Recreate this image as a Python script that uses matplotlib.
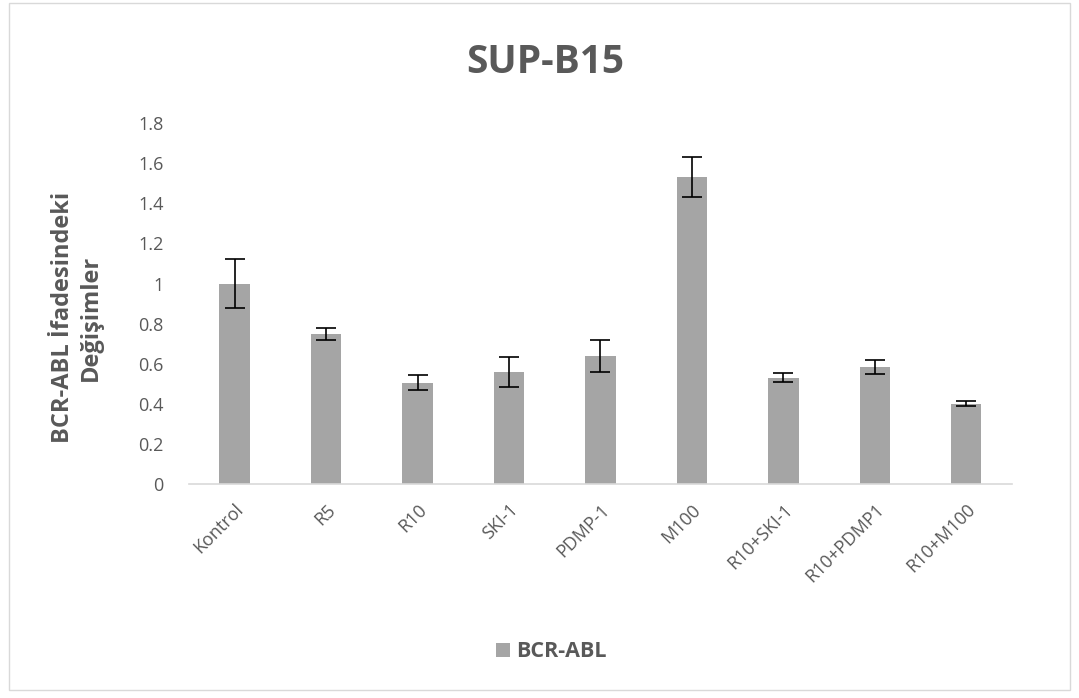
import matplotlib
matplotlib.use("Agg")
import matplotlib.pyplot as plt
from matplotlib.patches import Rectangle, Patch

categories = ["Kontrol", "R5", "R10", "SKI-1", "PDMP-1", "M100", "R10+SKI-1", "R10+PDMP1", "R10+M100"]
values = [1.0, 0.75, 0.505, 0.56, 0.64, 1.53, 0.53, 0.585, 0.40]
errors = [0.12, 0.03, 0.037, 0.075, 0.08, 0.10, 0.023, 0.035, 0.013]
yticks = [0, 0.2, 0.4, 0.6, 0.8, 1, 1.2, 1.4, 1.6, 1.8]
ytick_labels = ["0", "0.2", "0.4", "0.6", "0.8", "1", "1.2", "1.4", "1.6", "1.8"]

plt.rcParams['font.family'] = ['Open Sans', 'DejaVu Sans']
txt = "#595959"

fig = plt.figure(figsize=(10.79, 6.98), dpi=100)
fig.patches.append(Rectangle((0.008, 0.012), 0.984, 0.983, transform=fig.transFigure,
                             fill=False, edgecolor="#d9d9d9", linewidth=1))
ax = fig.add_axes([0.175, 0.3066, 0.763, 0.517])
x = list(range(len(categories)))
ax.bar(x, values, width=0.33, color="#a5a5a5", label="BCR-ABL", zorder=2)
ax.errorbar(x, values, yerr=errors, fmt="none", ecolor="black", elinewidth=1.2,
            capsize=7, capthick=1.2, zorder=3)
ax.set_xlim(-0.5, len(categories) - 0.5)
ax.set_ylim(0, 1.8)
ax.set_yticks(yticks)
ax.set_yticklabels(ytick_labels, color=txt, fontsize=13)
ax.set_xticks(x)
ax.set_xticklabels(categories, rotation=45, ha="right", rotation_mode="anchor",
                   color=txt, fontsize=13)
ax.tick_params(axis="y", length=0, pad=18)
ax.tick_params(axis="x", length=0, pad=12)
for s in ["top", "right", "left"]:
    ax.spines[s].set_visible(False)
ax.spines["bottom"].set_color("#d9d9d9")
ax.spines["bottom"].set_linewidth(1.2)

fig.text(0.505, 0.911, "SUP-B15", ha="center", va="center", fontsize=28,
         fontweight="bold", color=txt)
fig.text(0.071, 0.545, "BCR-ABL İfadesindeki\nDeğişimler", rotation=90, ha="center",
         va="center", fontsize=17, fontweight="bold", color=txt, linespacing=1.2)

fig.legend(handles=[Patch(facecolor="#a5a5a5", label="BCR-ABL")], loc="center",
           bbox_to_anchor=(0.511, 0.066), frameon=False, handlelength=0.65,
           handleheight=0.65, handletextpad=0.3,
           prop={"weight": "bold", "size": 15.5})
for t in fig.legends[0].get_texts():
    t.set_color(txt)

fig.savefig("out.png", dpi=100)
